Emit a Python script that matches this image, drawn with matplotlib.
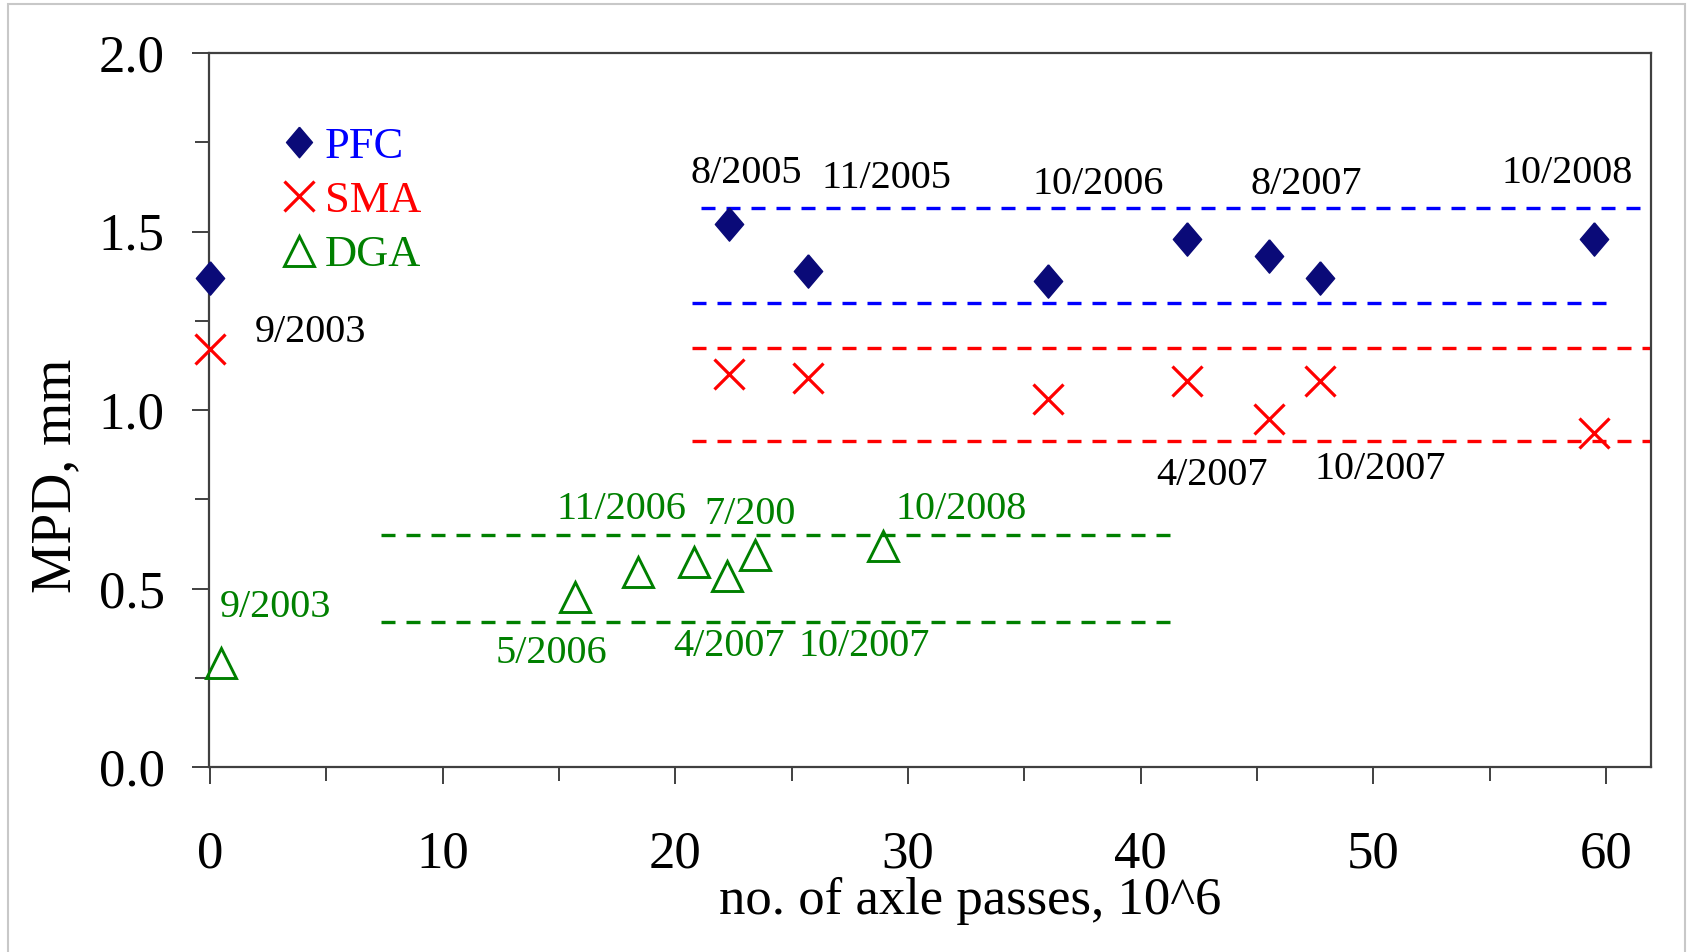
import matplotlib
matplotlib.use("Agg")
import matplotlib.pyplot as plt
from matplotlib.patches import Rectangle
from matplotlib.ticker import MultipleLocator

plt.rcParams['font.family'] = ['Liberation Serif', 'DejaVu Serif']

# ---------------- data ----------------
pfc_x = [0.0, 22.3, 25.7, 36.0, 42.0, 45.5, 47.7, 59.5]
pfc_y = [1.37, 1.52, 1.39, 1.36, 1.48, 1.43, 1.37, 1.48]

sma_x = [0.0, 22.3, 25.7, 36.0, 42.0, 45.5, 47.7, 59.5]
sma_y = [1.17, 1.10, 1.09, 1.03, 1.08, 0.975, 1.08, 0.935]

dga_x = [0.45, 15.7, 18.4, 20.8, 22.2, 23.4, 28.9]
dga_y = [0.29, 0.475, 0.545, 0.575, 0.535, 0.595, 0.62]

# reference (dashed) levels: (y, x_start, x_end)
pfc_levels = [(1.565, 21.1, 61.6), (1.30, 20.7, 60.0)]
sma_levels = [(1.175, 20.7, 62.0), (0.913, 20.7, 62.0)]
dga_levels = [(0.65, 7.35, 41.5), (0.407, 7.35, 41.5)]

# date labels
black_labels = ["9/2003", "8/2005", "11/2005", "10/2006", "8/2007", "10/2008", "4/2007", "10/2007"]
black_lx = [4.30, 23.03, 29.05, 38.16, 47.13, 58.33, 43.06, 50.28]
black_ly = [1.217, 1.663, 1.648, 1.633, 1.633, 1.663, 0.816, 0.834]

green_labels = ["9/2003", "11/2006", "7/200", "10/2008", "5/2006", "4/2007", "10/2007"]
green_lx = [2.82, 17.67, 23.22, 32.28, 14.66, 22.29, 28.12]
green_ly = [0.446, 0.720, 0.708, 0.720, 0.319, 0.337, 0.337]

x_ticks = [0, 10, 20, 30, 40, 50, 60]
y_ticks = [0.0, 0.5, 1.0, 1.5, 2.0]

# ---------------- figure ----------------
W, H = 1688, 952
fig = plt.figure(figsize=(W / 100, H / 100), dpi=100)
fig.patch.set_facecolor('white')

# light gray slide frame
fig.patches.append(Rectangle((8 / W, -0.01), (1685 - 8) / W, (H - 4) / H + 0.01,
                             transform=fig.transFigure, fill=False,
                             edgecolor='#c8c8c8', lw=1.5))

ax = fig.add_axes([209 / W, (H - 767) / H, (1651 - 209) / W, (767 - 53) / H])

navy = '#0a0a78'
blue = '#0000ff'
red = '#ff0000'
green = '#008000'

dash_kw = dict(lw=2.4, dashes=(4.2, 3.3))
for y, x0, x1 in pfc_levels:
    ax.plot([x0, x1], [y, y], color=blue, **dash_kw)
for y, x0, x1 in sma_levels:
    ax.plot([x0, x1], [y, y], color=red, **dash_kw)
for y, x0, x1 in dga_levels:
    ax.plot([x0, x1], [y, y], color=green, **dash_kw)

diamond = [(0, 1), (0.85, 0), (0, -1), (-0.85, 0), (0, 1)]
ax.plot(pfc_x, pfc_y, ls='none', marker=diamond, ms=24, color=navy,
        mec=navy, label='PFC', clip_on=False, zorder=5)
ax.plot(sma_x, sma_y, ls='none', marker='x', ms=22, mew=2.3, color=red,
        label='SMA', clip_on=False, zorder=5)
ax.plot(dga_x, dga_y, ls='none', marker='^', ms=22, mew=2.1, mfc='none',
        mec=green, color=green, label='DGA', clip_on=False, zorder=5)

for t, x, y in zip(black_labels, black_lx, black_ly):
    ax.text(x, y, t, color='black', fontsize=29, ha='center', va='center')
for t, x, y in zip(green_labels, green_lx, green_ly):
    ax.text(x, y, t, color=green, fontsize=29, ha='center', va='center')

ax.set_xlim(-0.05, 61.93)
ax.set_ylim(0, 2.0)
ax.set_xticks(x_ticks)
ax.set_yticks(y_ticks)
ax.set_yticklabels([f"{v:.1f}" for v in y_ticks])
ax.xaxis.set_minor_locator(MultipleLocator(5))
ax.yaxis.set_minor_locator(MultipleLocator(0.25))

ax.tick_params(axis='both', which='major', direction='out', length=12,
               width=1.4, color='#404040', labelsize=38)
ax.tick_params(axis='both', which='minor', direction='out', length=10,
               width=1.4, color='#404040')
ax.tick_params(axis='x', which='major', pad=34)
ax.tick_params(axis='y', which='major', pad=20)

for s in ax.spines.values():
    s.set_color('#404040')
    s.set_linewidth(1.6)

ax.set_xlabel('no. of axle passes, 10^6', fontsize=38)
ax.xaxis.set_label_coords(0.528, -0.154)
ax.set_ylabel('MPD, mm', fontsize=40)
ax.yaxis.set_label_coords(-0.088, 0.408)

leg = ax.legend(loc='upper left', bbox_to_anchor=(0.051, 0.897), frameon=False,
                fontsize=32, handlelength=0.75, handletextpad=0.2,
                labelspacing=0.32, borderpad=0, borderaxespad=0,
                labelcolor=[blue, red, green])
for h in leg.legend_handles:
    h.set_markersize(22)

fig.savefig('out.png', dpi=100, facecolor='white')
